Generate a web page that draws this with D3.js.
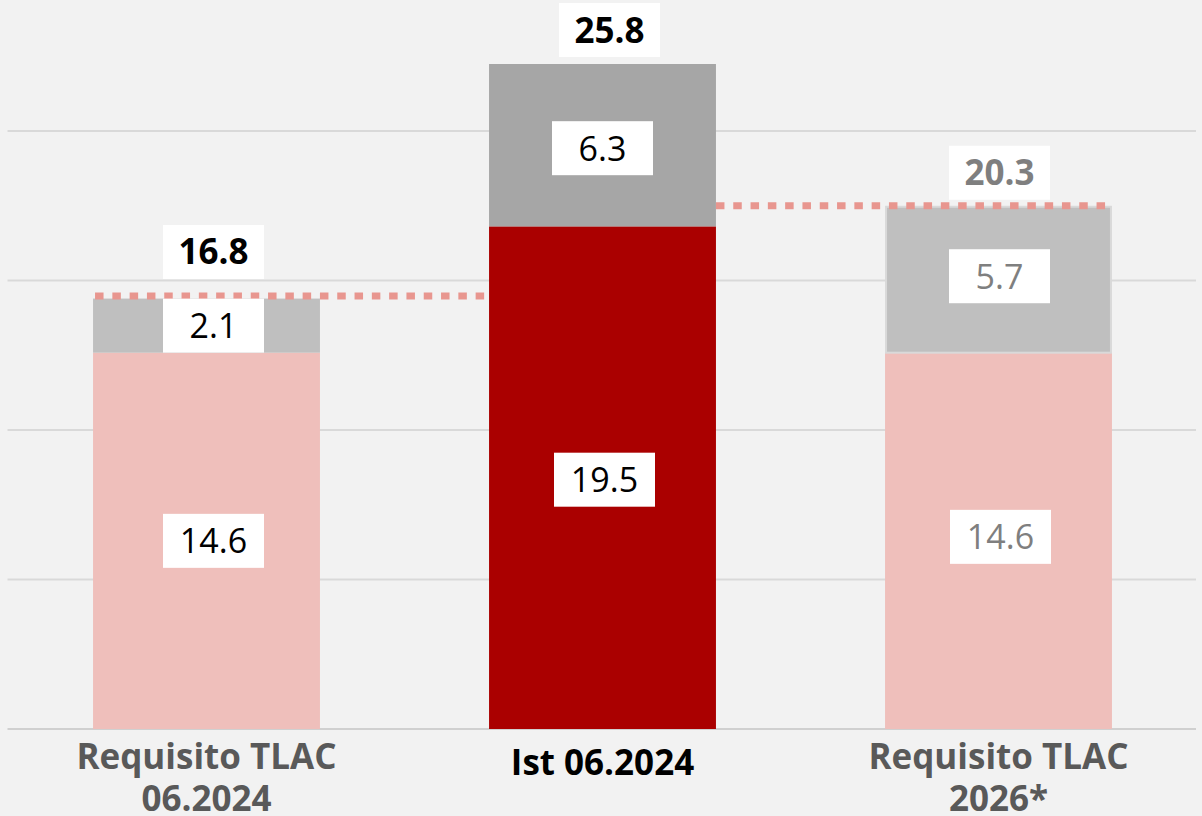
<!DOCTYPE html>
<html>
<head>
<meta charset="utf-8">
<script src="https://cdn.jsdelivr.net/npm/d3@7"></script>
<style>
  html, body { margin: 0; padding: 0; background: #f2f2f2; }
  svg { display: block; }
</style>
</head>
<body>
<svg id="chart" width="1202" height="816"></svg>
<script>
// ---- data ----
const categories = [["Requisito TLAC", "06.2024"], ["Ist 06.2024"], ["Requisito TLAC", "2026*"]];
const baseValues = [14.6, 19.5, 14.6];
const bufferValues = [2.1, 6.3, 5.7];
const totalValues = [16.8, 25.8, 20.3];
const gridValues = [0, 5.8, 11.6, 17.4, 23.2];

// ---- styles / layout tweaks ----
const baseColors = ["#efbfbb", "#aa0000", "#efbfbb"];
const bufferColors = ["#bfbfbf", "#a6a6a6", "#bfbfbf"];
const labelColors = ["#000000", "#000000", "#7f7f7f"];
const catColors = ["#595959", "#000000", "#595959"];
const totalGap = [17, 7, 6];
const nudge = {            // [dx, dy] per bar for base / buffer / total label boxes
  base:   [[7, 0], [2, 2], [2, -4]],
  buffer: [[7, 0], [0, 3], [1, -3]],
  total:  [[7, 0], [7, 0], [1, 0]]
};

const W = 1202, H = 816;
const svg = d3.select("#chart");
svg.append("rect").attr("width", W).attr("height", H).attr("fill", "#f2f2f2");

const x = d3.scaleBand().domain(d3.range(categories.length))
  .range([8.5, 1196.5]).paddingInner(0.427).paddingOuter(0.2135);
const y = d3.scaleLinear().domain([0, 29]).range([729, 729 - 29 * 25.775]);
const bw = x.bandwidth();

// gridlines
svg.append("g").selectAll("line").data(gridValues).join("line")
  .attr("x1", 7.5).attr("x2", 1196)
  .attr("y1", d => y(d)).attr("y2", d => y(d))
  .attr("stroke", d => d === 0 ? "#d0d0d0" : "#d9d9d9")
  .attr("stroke-width", 2);

const idx = d3.range(categories.length);

// base bars
svg.append("g").selectAll("rect").data(idx).join("rect")
  .attr("x", i => x(i)).attr("width", bw)
  .attr("y", i => y(baseValues[i]))
  .attr("height", i => y(0) - y(baseValues[i]))
  .attr("fill", i => baseColors[i]);

// buffer bars
svg.append("g").selectAll("rect").data(idx).join("rect")
  .attr("x", i => x(i) + (i === 2 ? 1 : 0))
  .attr("width", i => bw - (i === 2 ? 2 : 0))
  .attr("y", i => y(baseValues[i] + bufferValues[i]) + (i === 2 ? 1 : 0))
  .attr("height", i => y(baseValues[i]) - y(baseValues[i] + bufferValues[i]) - (i === 2 ? 1 : 0))
  .attr("fill", i => bufferColors[i])
  .attr("stroke", i => i === 2 ? "#d9d9d9" : "none")
  .attr("stroke-width", 2);

// dotted lines
const dotted = [
  { x1: x(0) + 2, x2: x(1) - 4, v: totalValues[0] },
  { x1: x(1) + bw, x2: x(2) + bw - 6, v: totalValues[2] }
];
svg.append("g").selectAll("line").data(dotted).join("line")
  .attr("x1", d => d.x1).attr("x2", d => d.x2)
  .attr("y1", d => y(d.v)).attr("y2", d => y(d.v))
  .attr("stroke", "#e8968f").attr("stroke-width", 7)
  .attr("stroke-dasharray", "8.5,8.8");

const boxW = 101, boxH = 54;
function labelBox(g, cx, cy, text, color, bold) {
  g.append("rect").attr("x", cx - boxW / 2).attr("y", cy - boxH / 2)
    .attr("width", boxW).attr("height", boxH).attr("fill", "#ffffff");
  g.append("text").attr("x", cx).attr("y", cy + 12.5)
    .attr("text-anchor", "middle")
    .attr("font-family", "'Open Sans', sans-serif")
    .attr("font-size", bold ? 35 : 34)
    .attr("font-weight", bold ? 700 : 400)
    .attr("fill", color).text(text);
}

const labels = svg.append("g");
idx.forEach(i => {
  const cx = x(i) + bw / 2;
  const b = nudge.base[i], u = nudge.buffer[i], t = nudge.total[i];
  labelBox(labels, cx + b[0], (y(0) + y(baseValues[i])) / 2 + b[1], baseValues[i].toFixed(1), labelColors[i], false);
  labelBox(labels, cx + u[0], (y(baseValues[i]) + y(baseValues[i] + bufferValues[i])) / 2 + u[1], bufferValues[i].toFixed(1), labelColors[i], false);
  labelBox(labels, cx + t[0], y(totalValues[i]) - totalGap[i] - boxH / 2 + t[1], totalValues[i].toFixed(1), labelColors[i], true);
});

// category labels
const cat = svg.append("g");
idx.forEach(i => {
  const lines = categories[i];
  const t = cat.append("text")
    .attr("text-anchor", "middle")
    .attr("font-family", "'Open Sans', sans-serif")
    .attr("font-size", 35).attr("font-weight", 700)
    .attr("fill", catColors[i]);
  lines.forEach((l, k) => {
    t.append("tspan").attr("x", x(i) + bw / 2)
      .attr("y", (lines.length === 1 ? 775 : 769) + k * 42)
      .text(l);
  });
});
</script>
</body>
</html>
